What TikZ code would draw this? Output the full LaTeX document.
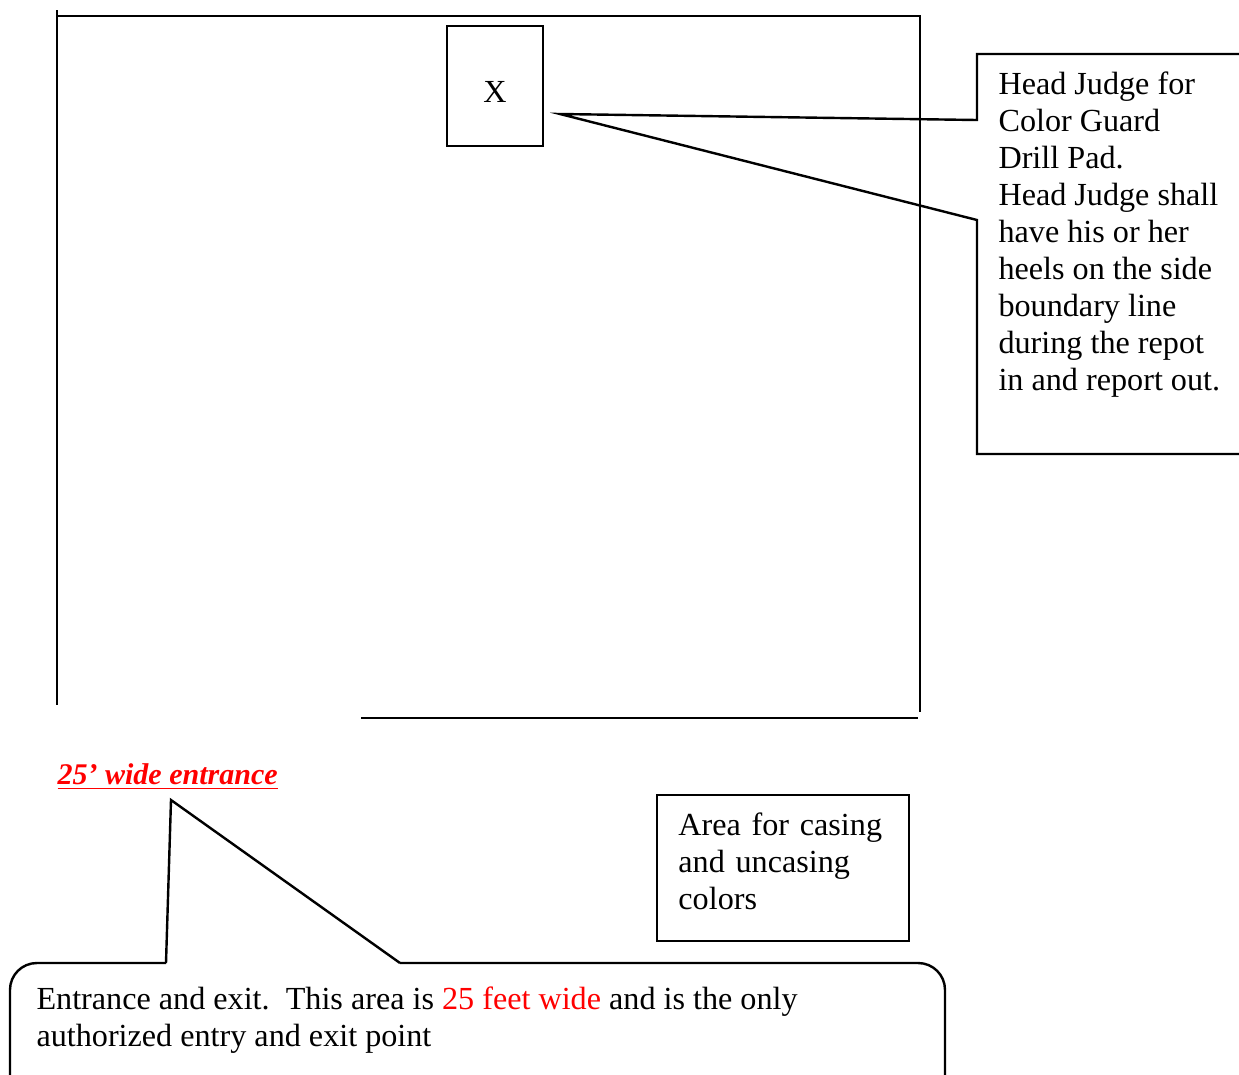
\documentclass[tikz,border=0pt]{standalone}
\usepackage{fontspec}
\setmainfont{Liberation Serif}
\usetikzlibrary{positioning,calc}

\begin{document}
\begin{tikzpicture}[
    x=0.373pt, y=-0.373pt,
    font=\fontsize{12}{13.8}\selectfont,
    edge/.style={line width=0.9pt},
    box/.style={rectangle, draw, line width=0.9pt},
    note/.style={anchor=north west, inner sep=0pt, align=left}
]
    \clip (0,0) rectangle (1239,1074);

    % Drill Pad
    \draw[edge] (57,10) -- (57,705);
    \draw[edge] (57,16) -- (920,16) -- (920,712);
    \draw[edge] (361,718) -- (918,718);

    % Judge position
    \node[box, minimum width=35.8pt, minimum height=44.8pt, text height=12pt] (judge) at (495,86) {X};

    % Head Judge callout
    \coordinate (judgetip) at (560,114);
    \draw[edge, line join=miter] (1260,54) -- (977,54) -- (977,120) -- (judgetip) -- (977,220) -- (977,454) -- (1260,454);
    \node[note] (judgetext) at (998,71) {Head Judge for\\Color Guard\\Drill Pad.\\Head Judge shall\\have his or her\\heels on the side\\boundary line\\during the repot\\in and report out.};

    % Entrance
    \node[anchor=base west, inner sep=0pt, text=red, font=\fontsize{11.2}{13}\selectfont\bfseries\itshape] (entrance) at (57,784) {\underline{25’ wide entrance}};

    % Casing area
    \node[box, minimum width=94pt, minimum height=54.5pt, text width=78pt, align=left] (casing) at (783,868) {Area for casing\\and uncasing\\colors\rule[-5.2pt]{0pt}{5.2pt}};

    % Entrance callout
    \coordinate (entrytip) at (171,800);
    \draw[edge, rounded corners=10pt] (166,963) -- (10,963) -- (10,1120) -- (945,1120) -- (945,963) -- (400,963);
    \draw[edge, line join=miter] (166,963) -- (entrytip) -- (400,963);
    \node[note] (entrytext) at (36,986) {Entrance and exit.\ \ This area is \textcolor{red}{25 feet wide} and is the only\\authorized entry and exit point};

\end{tikzpicture}
\end{document}
